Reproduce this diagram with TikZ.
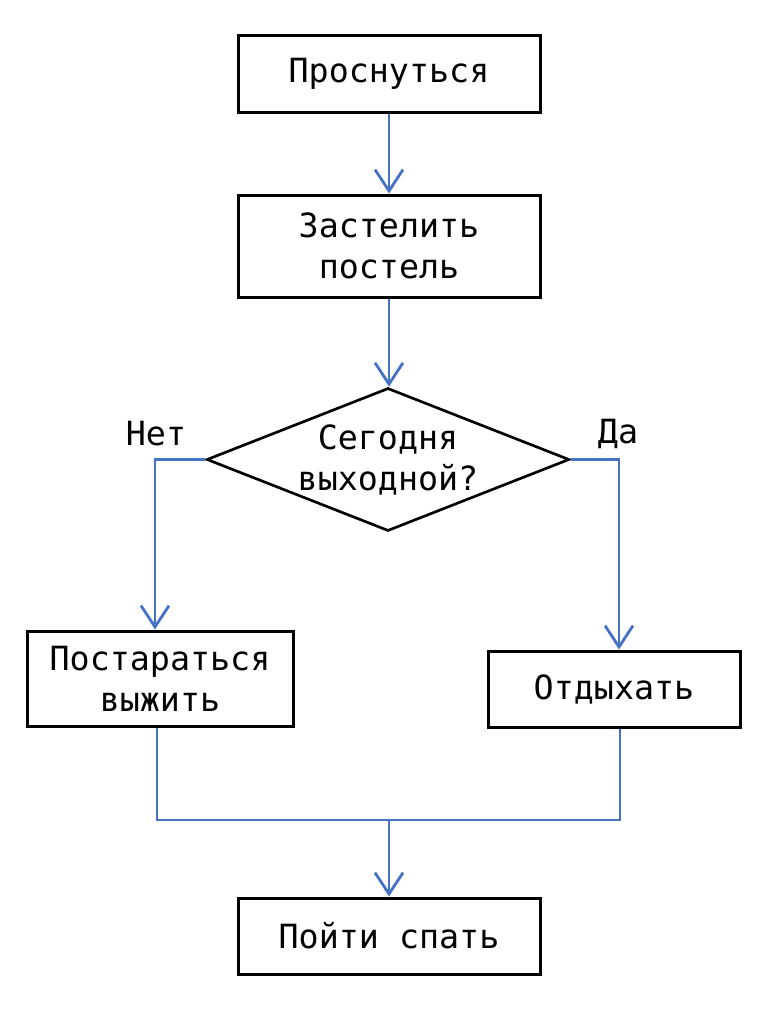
\documentclass[tikz,border=0pt]{standalone}
\usepackage{fontspec}
\setmonofont{DejaVu Sans Mono}
\usetikzlibrary{shapes.geometric, arrows.meta, positioning, calc}
\definecolor{flowblue}{RGB}{68,114,196}

\begin{document}
\begin{tikzpicture}[x=0.75pt, y=-0.75pt,
    every node/.style={font=\ttfamily\fontsize{25}{30.75}\selectfont, align=center},
    stepbox/.style={draw=black, line width=2.25pt, rectangle, minimum width=226.5pt, minimum height=57pt, inner sep=0pt},
    choice/.style={draw=black, line width=2pt, diamond, minimum width=272pt, minimum height=107.25pt, inner sep=0pt},
    link/.style={draw=flowblue, line width=2.1pt},
    flow/.style={link, -{Straight Barb[length=16pt, width=21pt]}}]
    \useasboundingbox (0,0) rectangle (768,1024);
    % Steps
    \node[stepbox] (wake) at (389,74) {Проснуться};
    \node[stepbox, minimum height=76.5pt] (bed) at (389,246) {Застелить\\постель};
    \node[choice, label={[name=weekendtxt]center:{Сегодня\\выходной?}}] (weekend) at (388,459.5) {};
    \node[stepbox, minimum width=199.5pt, minimum height=71.25pt] (survive) at (160,678.5) {Постараться\\выжить};
    \node[stepbox, minimum width=189pt] (rest) at (614,689) {Отдыхать};
    \node[stepbox] (sleep) at (389,936) {Пойти спать};
    % Branch labels
    \node (no) at (156,434) {Нет};
    \node (yes) at (618,434) {Да};
    % Connectors
    \draw[flow] (wake) -- (bed);
    \draw[flow] (bed.south) -- (bed.south |- weekend.north);
    \draw[flow] (weekend.west) -| ([xshift=-3.75pt]survive.north);
    \draw[flow] (weekend.east) -| ([xshift=3.75pt]rest.north);
    \coordinate (merge) at (389,820);
    \draw[link] ([xshift=-2.25pt]survive.south) |- (merge);
    \draw[link] ([xshift=4.5pt]rest.south) |- (merge);
    \draw[flow] (merge) -- (sleep);
\end{tikzpicture}
\end{document}
